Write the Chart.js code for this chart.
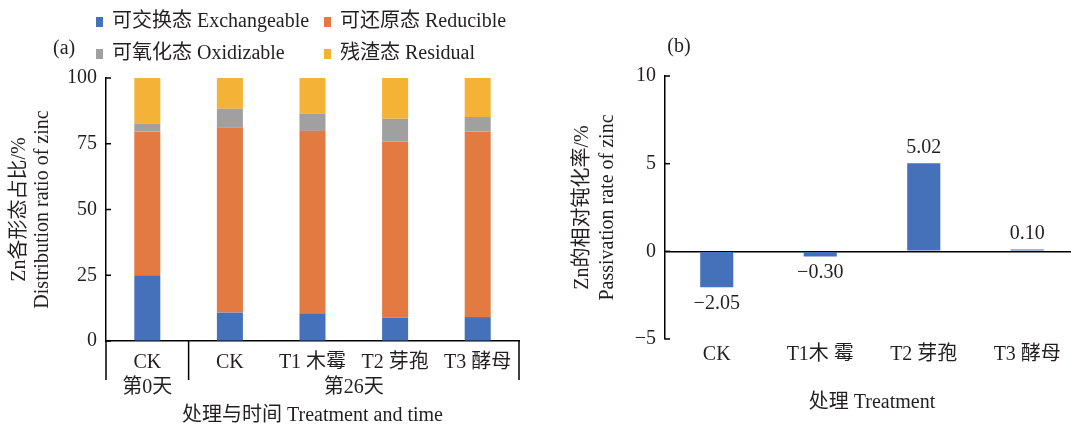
<!DOCTYPE html>
<html>
<head>
<meta charset="utf-8">
<script src="https://cdn.jsdelivr.net/npm/chart.js@4.4.1/dist/chart.umd.min.js"></script>
<style>
    html, body { margin: 0; padding: 0; background: #fff; overflow: hidden; width: 1071px; height: 425px; }
    #wrapA { position: absolute; left: 0; top: 0; width: 540px; height: 425px; }
    #wrapB { position: absolute; left: 540px; top: 0; width: 539px; height: 425px; }
</style>
</head>
<body>
<div id="wrapA"><canvas id="chartA"></canvas></div>
<div id="wrapB"><canvas id="chartB"></canvas></div>
<script>
// (a) Zn fractions, %
const stageLabels = ['CK', 'CK', 'T1 木霉', 'T2 芽孢', 'T3 酵母'];
const groupLabels = ['第0天', '第26天'];
const groupSizes = [1, 4];
const exchangeable = [25.0, 10.8, 10.3, 8.9, 9.1];
const reducible = [54.7, 70.5, 69.6, 66.9, 70.6];
const oxidizable = [3.0, 7.0, 6.6, 8.7, 5.5];
const residual = [17.3, 11.7, 13.5, 15.5, 14.8];
const ticksA = [0, 25, 50, 75, 100];

// (b) passivation rate, %
const treatments = ['CK', 'T1木 霉', 'T2 芽孢', 'T3 酵母'];
const passivation = [-2.05, -0.30, 5.02, 0.10];
const ticksB = [-5, 0, 5, 10];

const FONT = "'Liberation Serif', 'Noto Sans CJK SC', serif";
const TEXT = '#231f20';
const BLUE = '#4471ba';
const ORANGE = '#e27a42';
const GRAY = '#a0a0a0';
const YELLOW = '#f4b336';

const minus = (s) => String(s).replace('-', '\u2212');

// small tick marks pointing into the plot
const innerTicks = {
    id: 'innerTicks',
    afterDraw(chart) {
        const ctx = chart.ctx;
        const y = chart.scales.y;
        ctx.save();
        ctx.strokeStyle = '#000';
        ctx.lineWidth = 1.5;
        y.ticks.forEach(t => {
            const py = y.getPixelForValue(t.value);
            ctx.beginPath();
            ctx.moveTo(y.right, py);
            ctx.lineTo(y.right + 5, py);
            ctx.stroke();
        });
        ctx.restore();
    }
};

// legend 2x2 + panel tag
const legendA = {
    id: 'legendA',
    afterDraw(chart) {
        const ctx = chart.ctx;
        const cols = [96, 324];
        const rows = [22, 54];
        ctx.save();
        ctx.font = `20px ${FONT}`;
        ctx.textBaseline = 'middle';
        chart.data.datasets.forEach((ds, i) => {
            const x = cols[i % 2];
            const y = rows[Math.floor(i / 2)];
            ctx.fillStyle = ds.backgroundColor;
            ctx.fillRect(x, y - 5, 7, 10);
            ctx.fillStyle = TEXT;
            ctx.fillText(ds.label, x + 16, y);
        });
        ctx.fillText('(a)', 53, 49);
        ctx.restore();
    }
};

// second level of the category axis: day groups
const groupAxis = {
    id: 'groupAxis',
    afterDraw(chart) {
        const { ctx, chartArea } = chart;
        const x = chart.scales.x;
        const bottom = chartArea.bottom;
        const edges = [chartArea.left];
        let start = 0;
        groupSizes.forEach(n => {
            start += n;
            edges.push(start < stageLabels.length
                ? (x.getPixelForValue(start - 1) + x.getPixelForValue(start)) / 2
                : chartArea.right);
        });
        ctx.save();
        ctx.strokeStyle = '#000';
        ctx.lineWidth = 1.5;
        edges.forEach(px => {
            ctx.beginPath();
            ctx.moveTo(px, bottom);
            ctx.lineTo(px, bottom + 39);
            ctx.stroke();
        });
        ctx.font = `20px ${FONT}`;
        ctx.textAlign = 'center';
        ctx.textBaseline = 'middle';
        ctx.fillStyle = TEXT;
        start = 0;
        groupLabels.forEach((g, i) => {
            const a = x.getPixelForValue(start);
            const b = x.getPixelForValue(start + groupSizes[i] - 1);
            ctx.fillText(g, (a + b) / 2, bottom + 47);
            start += groupSizes[i];
        });
        ctx.restore();
    }
};

const valueLabels = {
    id: 'valueLabels',
    afterDatasetsDraw(chart) {
        const ctx = chart.ctx;
        const meta = chart.getDatasetMeta(0);
        ctx.save();
        ctx.font = `20px ${FONT}`;
        ctx.textAlign = 'center';
        ctx.textBaseline = 'middle';
        ctx.fillStyle = TEXT;
        meta.data.forEach((bar, i) => {
            const v = passivation[i];
            ctx.fillText(minus(v.toFixed(2)), bar.x, bar.y + (v >= 0 ? -16 : 16));
        });
        ctx.fillText('(b)', 139, 47);
        ctx.restore();
    }
};

const tickFont = { family: FONT, size: 20 };

new Chart(document.getElementById('chartA'), {
    type: 'bar',
    data: {
        labels: stageLabels,
        datasets: [
            { label: '可交换态 Exchangeable', data: exchangeable, backgroundColor: BLUE },
            { label: '可还原态 Reducible', data: reducible, backgroundColor: ORANGE },
            { label: '可氧化态 Oxidizable', data: oxidizable, backgroundColor: GRAY },
            { label: '残渣态 Residual', data: residual, backgroundColor: YELLOW }
        ]
    },
    options: {
        responsive: true,
        maintainAspectRatio: false,
        animation: false,
        layout: { padding: { top: 78, right: 21, left: 0, bottom: 0 } },
        datasets: { bar: { barPercentage: 0.315, categoryPercentage: 1 } },
        plugins: { legend: { display: false }, tooltip: { enabled: false } },
        scales: {
            x: {
                stacked: true,
                grid: { display: false, drawTicks: false },
                border: { display: true, color: '#000', width: 1.5 },
                ticks: { color: TEXT, font: tickFont, padding: 10, maxRotation: 0, autoSkip: false },
                title: {
                    display: true, text: '处理与时间 Treatment and time', color: TEXT,
                    font: { family: FONT, size: 20, lineHeight: 0.9 }, padding: { top: 0, bottom: 0 }
                },
                afterFit(s) { s.height = 84; }
            },
            y: {
                stacked: true,
                min: ticksA[0],
                max: ticksA[ticksA.length - 1],
                ticks: { stepSize: ticksA[1] - ticksA[0], color: TEXT, font: tickFont, padding: 9 },
                grid: { drawOnChartArea: false, drawTicks: false },
                border: { display: true, color: '#000', width: 1.5 },
                title: {
                    display: true, text: ['Zn各形态占比/%', 'Distribution ratio of zinc'], color: TEXT,
                    font: { family: FONT, size: 20, lineHeight: 1.15 }, padding: { top: 8.5, bottom: 0 }
                },
                afterFit(s) { s.width = 106; }
            }
        }
    },
    plugins: [legendA, groupAxis, innerTicks]
});

new Chart(document.getElementById('chartB'), {
    type: 'bar',
    data: {
        labels: treatments,
        datasets: [{ label: 'Passivation rate of zinc', data: passivation, backgroundColor: BLUE }]
    },
    options: {
        responsive: true,
        maintainAspectRatio: false,
        animation: false,
        layout: { padding: { top: 76, right: 0, left: 0, bottom: 0 } },
        datasets: { bar: { barPercentage: 0.32, categoryPercentage: 1 } },
        plugins: { legend: { display: false }, tooltip: { enabled: false } },
        scales: {
            x: {
                grid: { display: false, drawTicks: false },
                border: { display: false },
                ticks: { color: TEXT, font: tickFont, padding: 4, maxRotation: 0, autoSkip: false },
                title: {
                    display: true, text: '处理 Treatment', color: TEXT,
                    font: { family: FONT, size: 20, lineHeight: 1.2 }, padding: { top: 0, bottom: 10 }
                },
                afterFit(s) { s.height = 86; }
            },
            y: {
                min: ticksB[0],
                max: ticksB[ticksB.length - 1],
                ticks: {
                    stepSize: ticksB[1] - ticksB[0], color: TEXT, font: tickFont, padding: 9,
                    callback: (v) => minus(v)
                },
                grid: {
                    color: (c) => (c.tick && c.tick.value === 0 ? '#000' : 'rgba(0,0,0,0)'),
                    drawTicks: false, lineWidth: 1.5
                },
                border: { display: true, color: '#000', width: 1.5 },
                title: {
                    display: true, text: ['Zn的相对钝化率/%', 'Passivation rate of zinc'], color: TEXT,
                    font: { family: FONT, size: 20, lineHeight: 1.25 }, padding: { top: 30, bottom: 0 }
                },
                afterFit(s) { s.width = 125; }
            }
        }
    },
    plugins: [valueLabels, innerTicks]
});
</script>
</body>
</html>
